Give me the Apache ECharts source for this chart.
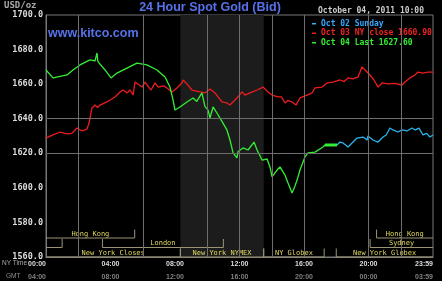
<!DOCTYPE html>
<html><head><meta charset="utf-8">
<script src="https://cdn.jsdelivr.net/npm/echarts@6/dist/echarts.min.js"></script>
<style>html,body{margin:0;padding:0;background:#000}#c{width:442px;height:281px}</style>
</head><body><div id="c"></div>
<script>
// ---- data (hours in NY time, price USD/oz) ----
const yTicks = [1560, 1580, 1600, 1620, 1640, 1660, 1680, 1700];
const nyTickLabels = ['00:00', '04:00', '08:00', '12:00', '16:00', '20:00', '23:59'];
const gmtTickLabels = ['04:00', '08:00', '12:00', '16:00', '20:00', '00:00', '03:59'];

const redName = 'Oct 03 NY close 1660.90';
const redHours = [0,0.43,0.87,1.30,1.60,1.92,2.23,2.54,2.67,2.85,3.04,3.20,3.35,3.78,3.97,4.28,4.59,4.78,5.02,5.21,5.40,5.52,5.95,6.14,6.51,6.76,6.95,7.30,7.50,7.81,8.12,8.43,8.50,8.75,9.05,9.55,9.86,10.17,10.29,10.48,10.91,11.22,11.41,11.84,12.16,12.34,12.65,13.09,13.46,13.77,14.02,14.39,14.60,14.82,15.00,15.26,15.50,15.75,16.19,16.50,16.68,17.12,17.43,17.80,18.23,18.50,18.73,19.00,19.35,19.45,19.60,19.80,20.09,20.34,20.59,20.84,21.21,21.60,22.08,22.26,22.57,22.88,23.07,23.38,23.69,24.0];
const redPrices = [1628.8,1630.6,1632.3,1631.2,1631.5,1634.6,1632.9,1634.0,1637.5,1646.2,1647.9,1646.5,1647.9,1649.7,1650.8,1652.6,1655.5,1656.6,1654.9,1656.6,1653.7,1661.2,1658.3,1661.2,1656.6,1660.7,1658.3,1659.0,1657.8,1655.5,1657.8,1660.7,1662.4,1660.0,1656.6,1655.5,1654.9,1657.2,1656.6,1654.9,1649.7,1649.1,1647.9,1652.0,1655.5,1653.7,1654.9,1656.6,1658.3,1655.5,1653.7,1652.6,1652.6,1649.1,1650.5,1649.7,1647.9,1652.0,1653.7,1654.9,1657.8,1658.3,1660.7,1661.2,1662.4,1661.5,1663.6,1663.0,1664.1,1666.4,1670.0,1668.0,1665.3,1662.4,1658.3,1660.7,1660.1,1660.5,1659.5,1661.2,1663.6,1665.3,1667.0,1666.4,1667.0,1667.0];

const greenName = 'Oct 04 Last 1627.60';
const greenHours = [0,0.43,0.87,1.30,1.67,2.11,2.73,3.04,3.16,3.22,3.66,4.03,4.40,5.02,5.64,6.26,6.88,7.00,7.38,7.69,7.88,8.00,8.31,8.74,9.12,9.35,9.67,9.86,10.05,10.17,10.36,10.60,10.91,11.22,11.41,11.60,11.84,11.91,12.03,12.22,12.53,12.90,13.09,13.40,13.71,13.89,14.02,14.33,14.51,14.82,15.01,15.26,15.40,15.57,15.75,16.06,16.25,16.68,17.18,17.30,17.70,18.05];
const greenPrices = [1668.2,1663.6,1664.5,1665.3,1668.2,1671.1,1674.0,1673.4,1678.0,1673.0,1668.2,1663.6,1666.4,1669.3,1672.2,1671.1,1668.2,1669.0,1664.1,1658.3,1650.8,1645.0,1646.8,1649.7,1652.0,1650.0,1654.9,1647.0,1645.0,1640.4,1646.8,1643.3,1638.5,1633.5,1627.7,1620.2,1617.3,1621.0,1621.9,1623.1,1621.9,1626.5,1621.9,1616.1,1616.7,1612.1,1606.3,1610.3,1612.1,1607.4,1602.8,1597.0,1600.0,1604.5,1610.3,1617.9,1620.2,1620.7,1623.6,1624.8,1624.8,1624.8];
const greenLastCount = 3; // dense tail drawn thicker

const cyanName = 'Oct 02 Sunday';
const cyanHours = [18.05,18.23,18.42,18.73,19.04,19.29,19.66,19.91,19.97,20.28,20.59,20.90,21.10,21.33,21.52,21.83,22.08,22.39,22.70,22.90,23.13,23.38,23.60,23.81,24.0];
const cyanPrices = [1624.8,1626.5,1626.0,1623.6,1626.5,1628.8,1629.4,1627.7,1630.0,1627.7,1626.5,1629.4,1630.6,1634.6,1633.5,1632.3,1633.5,1632.9,1634.6,1633.5,1634.6,1630.6,1631.5,1629.4,1630.6];

const comexHours = [8.333, 13.5];
const refPrices = [1640, 1620];
const vGridHours = [2, 6, 10, 12, 14, 16, 20, 22];

// market sessions: name, start hour, end hour, row (1 top .. 3 bottom)
const sessNames = ['Hong Kong', '', 'London', 'New York Closes', 'New York NYMEX', 'NY Globex', 'Sydney', 'Hong Kong', 'New York Globex'];
const sessStart = [0, 0, 3.5, 0, 8.333, 13.5, 20.1, 20.5, 18.0];
const sessEnd   = [5.5, 1.0, 11.0, 8.333, 13.5, 17.25, 24, 24, 24];
const sessRow   = [1, 2, 2, 3, 3, 3, 2, 1, 3];

// ---- build ----
const zip = (a, b) => a.map((h, i) => [h, b[i]]);
const redData = zip(redHours, redPrices);
const greenData = zip(greenHours, greenPrices);
const greenTail = greenData.slice(greenData.length - greenLastCount);
const cyanData = zip(cyanHours, cyanPrices);
const sessData = sessNames.map((n, i) => [sessStart[i], sessEnd[i], sessRow[i], n]);

const RED = '#ee1c1c', GREEN = '#33ee33', CYAN = '#2ab4ea';
const LINECOL = '#9a9474', TXTCOL = '#e2d860';
const rowLineOffset = {1: 19, 2: 9.5, 3: 0};

const chart = echarts.init(document.getElementById('c'), null, {renderer: 'canvas'});
chart.setOption({
  backgroundColor: '#000',
  animation: false,
  grid: {left: 46, right: 9, top: 15, bottom: 24, show: true, borderColor: '#777', borderWidth: 1, backgroundColor: '#000'},
  legend: {
    orient: 'vertical', left: 307, top: 14, itemWidth: 4, itemHeight: 1.5, itemGap: 0, icon: 'rect',
    selectedMode: false,
    textStyle: {fontFamily: 'DejaVu Sans Mono', fontSize: 8, fontWeight: 'bold', lineHeight: 9.5},
    data: [
      {name: cyanName, textStyle: {color: '#36a8ff'}},
      {name: redName, textStyle: {color: '#ee2222'}},
      {name: greenName, textStyle: {color: GREEN}}
    ]
  },
  xAxis: {
    type: 'value', min: 0, max: 24, interval: 4,
    axisLine: {show: true, lineStyle: {color: '#777'}},
    axisTick: {show: false}, splitLine: {show: false},
    axisLabel: {
      margin: 1, showMinLabel: true, showMaxLabel: true, alignMinLabel: 'right', alignMaxLabel: 'right',
      formatter: (v) => {
        const i = Math.round(v / 4);
        return '{a|' + nyTickLabels[i] + '}\n{b|' + gmtTickLabels[i] + '}';
      },
      rich: {
        a: {fontFamily: 'Liberation Sans', fontWeight: 'bold', fontSize: 7, color: '#dddddd', lineHeight: 13},
        b: {fontFamily: 'Liberation Sans', fontWeight: 'bold', fontSize: 7, color: '#808080', lineHeight: 13}
      }
    }
  },
  yAxis: {
    type: 'value', min: yTicks[0], max: yTicks[yTicks.length - 1], interval: 20,
    axisLine: {show: true, lineStyle: {color: '#777'}}, axisTick: {show: false}, splitLine: {show: false},
    axisLabel: {margin: 3, color: '#dddddd', fontFamily: 'DejaVu Sans Mono', fontWeight: 'bold', fontSize: 8.5,
      formatter: (v) => v.toFixed(1)}
  },
  graphic: [
    {type: 'text', left: 4, top: 1, style: {text: 'USD/oz', fill: '#aaaaaa', font: 'bold 9px "DejaVu Sans Mono"'}},
    {type: 'text', x: 210, y: 8, style: {text: '24 Hour Spot Gold (Bid)', fill: '#5672ea', font: 'bold 12.5px "Liberation Sans"', align: 'center', verticalAlign: 'middle'}},
    {type: 'text', x: 48, y: 34, style: {text: 'www.kitco.com', fill: '#5672ea', font: 'bold 12.5px "Liberation Sans"', verticalAlign: 'middle'}, z: 10},
    {type: 'text', x: 318, y: 10.5, style: {text: 'October 04, 2011 10:00', fill: '#cccccc', font: 'bold 8px "DejaVu Sans Mono"', verticalAlign: 'middle'}},
    {type: 'text', x: 2, y: 263.5, style: {text: 'NY Time', fill: '#aaaaaa', font: '6.5px "Liberation Sans"', verticalAlign: 'middle'}},
    {type: 'text', x: 6, y: 276.5, style: {text: 'GMT', fill: '#909090', font: '6.5px "Liberation Sans"', verticalAlign: 'middle'}}
  ],
  series: [
    {
      type: 'line', name: 'grid', data: [], z: 1, silent: true,
      markArea: {silent: true, itemStyle: {color: '#1c1c1c'}, data: [[{xAxis: comexHours[0]}, {xAxis: comexHours[1]}]]},
      markLine: {silent: true, symbol: 'none', label: {show: false},
        lineStyle: {color: '#6e6e6e', type: 'solid', width: 1},
        data: refPrices.map(p => ({yAxis: p})).concat(vGridHours.map(h => ({xAxis: h})))}
    },
    {
      type: 'custom', name: 'markets', z: 2, silent: true, clip: false,
      data: sessData,
      renderItem: (params, api) => {
        const s = api.value(0), e = api.value(1), row = api.value(2);
        const name = sessData[params.dataIndex][3];
        const p0 = api.coord([s, 1560]), p1 = api.coord([e, 1560]);
        const yl = p0[1] - rowLineOffset[row];
        const children = [];
        const ls = {stroke: LINECOL, lineWidth: 1};
        children.push({type: 'line', shape: {x1: p0[0], y1: yl, x2: p1[0], y2: yl}, style: ls});
        if (s > 0) children.push({type: 'line', shape: {x1: p0[0], y1: yl, x2: p0[0], y2: yl - 8.5}, style: ls});
        if (e < 24) children.push({type: 'line', shape: {x1: p1[0], y1: yl, x2: p1[0], y2: yl - 8.5}, style: ls});
        if (name) children.push({type: 'text', x: (p0[0] + p1[0]) / 2, y: yl - 4.3,
          style: {text: name, fill: TXTCOL, font: '7px "DejaVu Sans Mono"', align: 'center', verticalAlign: 'middle'}});
        return {type: 'group', children};
      }
    },
    {type: 'line', name: redName, data: redData, showSymbol: false, z: 3, color: RED, lineStyle: {color: RED, width: 1.3}},
    {type: 'line', name: greenName, data: greenData, showSymbol: false, z: 4, color: GREEN, lineStyle: {color: GREEN, width: 1.3}},
    {type: 'line', name: greenName + ' tail', data: greenTail, showSymbol: false, z: 4, color: GREEN, lineStyle: {color: GREEN, width: 3}},
    {type: 'line', name: cyanName, data: cyanData, showSymbol: false, z: 3, color: CYAN, lineStyle: {color: CYAN, width: 1.3}}
  ]
});
</script></body></html>
